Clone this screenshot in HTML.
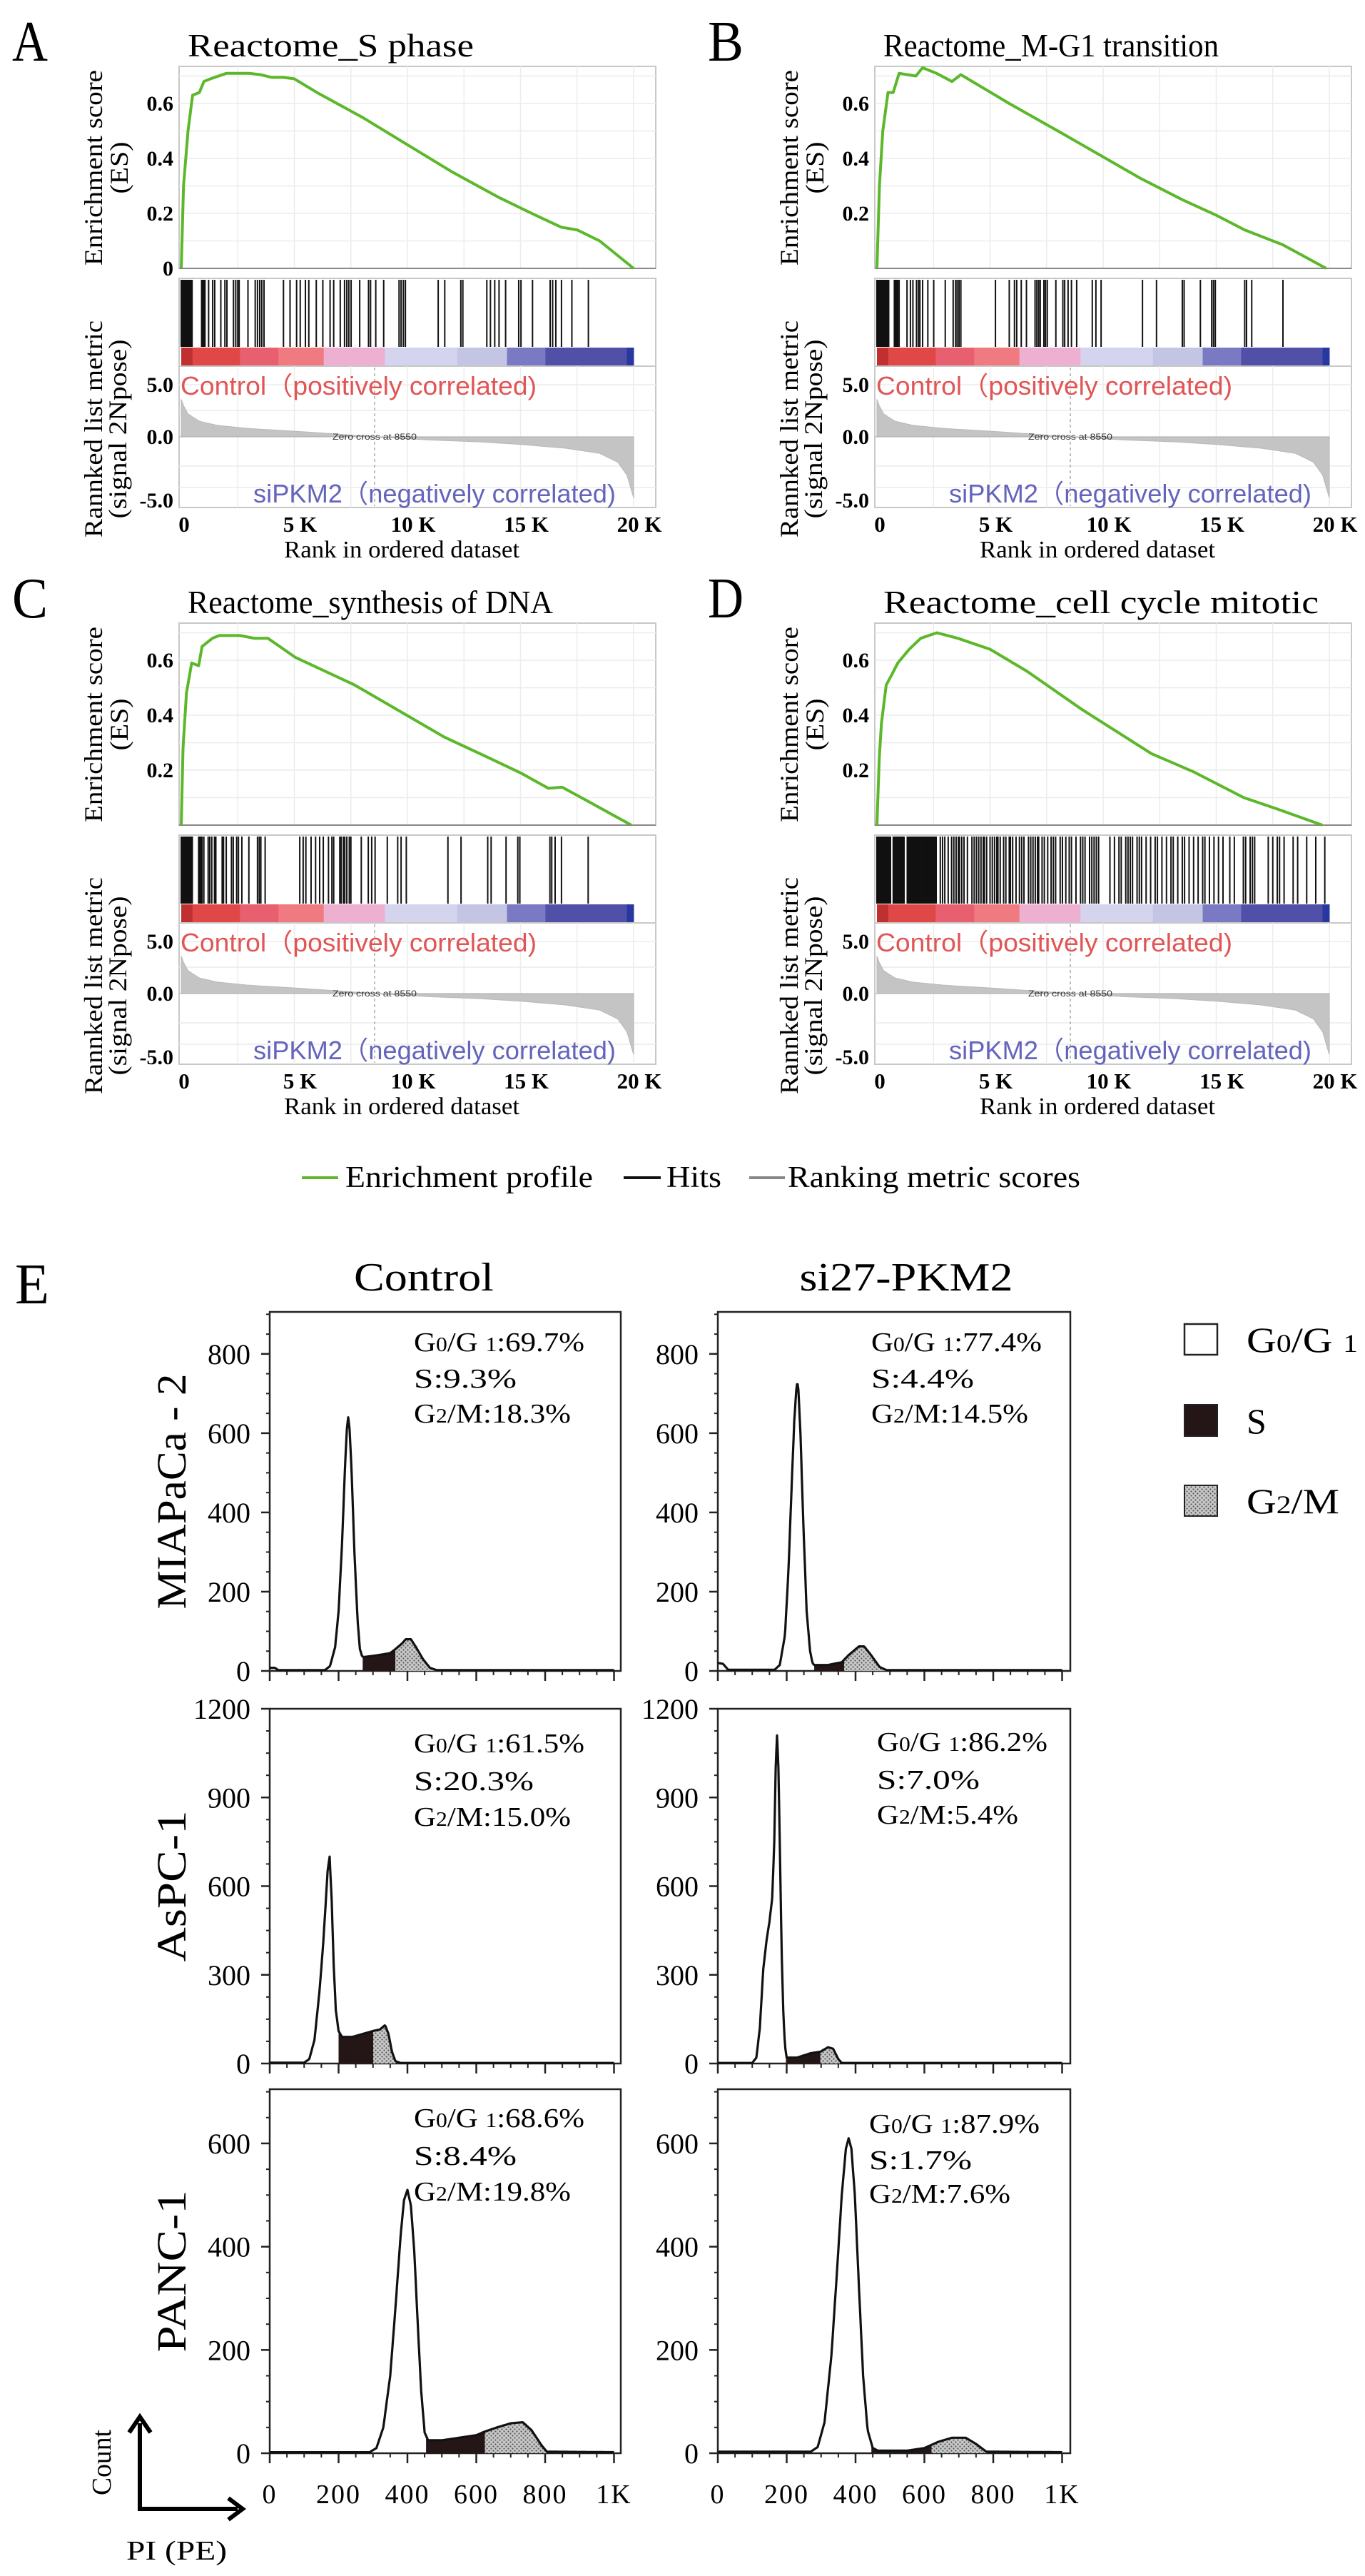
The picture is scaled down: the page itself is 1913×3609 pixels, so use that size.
<!DOCTYPE html>
<html><head><meta charset="utf-8">
<style>
html,body{margin:0;padding:0;background:#fff;}
svg{display:block;font-family:"Liberation Serif",serif;}
</style></head>
<body>
<svg id="fig" width="1913" height="3609" viewBox="0 0 1913 3609" xmlns="http://www.w3.org/2000/svg">
<defs>
<pattern id="hatch" width="6" height="6" patternUnits="userSpaceOnUse">
<rect width="6" height="6" fill="#c8c8c8"/>
<circle cx="1.5" cy="1.5" r="1.1" fill="#555"/>
<circle cx="4.5" cy="4.5" r="1.1" fill="#555"/>
</pattern>
</defs>
</svg>
<script>
// ---------- GSEA data ----------
const xTickK = [0,5,10,15,20];
const xTickLabels = ["0","5 K","10 K","15 K","20 K"];
const esTicks = [0.6,0.4,0.2];
const metricTicks = [5,0,-5];
const metricTickLabels = ["5.0","0.0","-5.0"];

const esA_k = [0,0.1,0.3,0.5,0.8,1.0,1.3,2.0,2.5,3.0,3.5,4.0,4.5,5.0,6,8,10,12,14,15.5,16.8,17.5,18.5,20.0];
const esA_v = [0,0.3,0.5,0.63,0.64,0.68,0.69,0.71,0.71,0.71,0.705,0.695,0.695,0.69,0.64,0.55,0.45,0.35,0.26,0.2,0.15,0.14,0.1,0];
const esB_k = [0,0.11,0.26,0.49,0.72,0.98,1.72,2.02,2.63,3.32,3.71,5.85,8.30,11.67,13.50,14.96,16.26,17.94,19.86];
const esB_v = [0,0.3,0.5,0.64,0.64,0.71,0.70,0.73,0.71,0.68,0.705,0.6,0.486,0.327,0.25,0.195,0.14,0.086,0];
const esC_k = [0,0.08,0.23,0.46,0.77,0.92,1.38,1.68,2.60,3.22,3.83,5.05,7.66,11.64,13.47,15.0,16.23,16.84,17.91,19.90];
const esC_v = [0,0.28,0.48,0.59,0.58,0.65,0.68,0.69,0.69,0.68,0.68,0.61,0.51,0.32,0.25,0.19,0.134,0.138,0.09,0];
const esD_k = [0,0.1,0.2,0.41,0.61,0.92,1.43,1.94,2.65,3.57,5.0,6.63,9.08,12.14,13.97,16.22,17.65,19.69];
const esD_v = [0,0.24,0.37,0.51,0.54,0.59,0.64,0.68,0.70,0.68,0.64,0.56,0.42,0.26,0.195,0.10,0.06,0];

const hitsA = [0,0.04,0.08,0.12,0.16,0.2,0.24,0.28,0.32,0.36,0.4,0.44,0.48,0.9,0.95,1.0,1.05,1.21,1.39,1.48,1.75,1.93,2.02,2.31,2.41,2.50,2.56,2.95,3.27,3.37,3.47,3.56,3.66,4.52,4.81,5.10,5.26,5.49,5.64,5.97,6.26,6.58,6.74,7.03,7.22,7.32,7.41,7.51,7.89,8.28,8.37,8.60,8.95,9.63,9.72,9.82,9.91,11.36,11.65,12.36,12.45,13.51,13.67,13.86,14.05,14.34,14.92,15.02,15.53,16.31,16.42,16.56,16.81,17.27,18.00];
const hitsB = [0,0.04,0.08,0.12,0.16,0.2,0.24,0.28,0.32,0.36,0.4,0.44,0.48,0.52,0.77,0.82,0.87,0.92,0.98,1.33,1.48,1.59,1.75,1.84,1.90,2.02,2.25,2.51,3.02,3.37,3.48,3.55,3.63,3.71,5.24,5.85,6.08,6.18,6.38,6.61,6.99,7.07,7.15,7.22,7.38,7.45,7.53,7.91,8.22,8.30,8.45,8.60,8.83,9.52,9.68,9.91,11.74,12.36,13.50,13.58,14.30,14.80,14.88,14.96,16.26,16.34,16.57,17.95];
const hitsC = [0,0.04,0.08,0.12,0.16,0.2,0.24,0.28,0.32,0.36,0.4,0.44,0.49,0.77,0.82,0.87,0.92,1.0,1.19,1.26,1.35,1.47,1.53,1.81,1.87,1.99,2.22,2.30,2.45,2.53,2.68,2.99,3.37,3.45,3.52,3.71,5.24,5.39,5.51,5.74,5.94,6.12,6.28,6.51,6.66,6.74,7.01,7.07,7.17,7.23,7.32,7.43,7.50,7.96,8.27,8.42,8.57,9.11,9.57,9.72,9.95,11.79,12.37,13.55,13.70,14.36,14.88,14.97,16.30,16.38,16.53,16.81,17.99];
const hitsD = [0,0.04,0.08,0.12,0.16,0.2,0.24,0.28,0.32,0.36,0.4,0.44,0.48,0.52,0.56,0.6,0.72,0.76,0.8,0.84,0.88,0.92,0.96,1.0,1.04,1.08,1.12,1.16,1.2,1.34,1.38,1.42,1.46,1.5,1.54,1.58,1.62,1.66,1.7,1.74,1.78,1.82,1.86,1.9,1.94,1.98,2.02,2.06,2.1,2.14,2.18,2.22,2.26,2.3,2.34,2.38,2.42,2.46,2.5,2.54,2.58,2.62,2.8,2.9,3.0,3.15,3.3,3.4,3.5,3.6,3.65,3.75,3.85,4.0,4.2,4.3,4.4,4.5,4.6,4.7,4.75,4.85,5.0,5.1,5.2,5.3,5.35,5.45,5.6,5.7,5.85,5.9,6.0,6.15,6.3,6.4,6.5,6.7,6.8,6.9,7.0,7.1,7.15,7.3,7.4,7.55,7.7,7.8,7.9,8.1,8.2,8.35,8.5,8.6,8.8,9.0,9.1,9.2,9.4,9.5,9.6,9.7,9.8,10.3,10.5,10.7,10.8,11.0,11.1,11.2,11.3,11.5,11.6,11.7,11.9,12.1,12.3,12.4,12.6,12.8,13.0,13.1,13.3,13.5,13.6,13.8,14.0,14.2,14.4,14.5,14.7,14.9,15.1,15.3,15.6,15.8,16.2,16.3,16.5,16.6,16.7,17.3,17.5,17.7,17.8,18.0,18.4,18.6,19.0,19.4,19.8];

const metricK = [0,0.1,0.3,0.8,1.6,3,5.3,7,8.55,11,13.2,15,17,18.5,19.3,19.7,20.0];
const metricV = [3.6,3.0,2.2,1.5,1.1,0.8,0.5,0.25,0,-0.25,-0.4,-0.6,-0.9,-1.3,-2,-3,-4.8];

const barStartK = [0,0.5,2.6,4.3,6.3,9.0,12.2,14.4,16.1,19.7];
const barEndK = [0.5,2.6,4.3,6.3,9.0,12.2,14.4,16.1,19.7,20.0];
const barColors = ["#c03030","#e04848","#e86070","#ef7a80","#eeb0d0","#d4d4ee","#c4c4e4","#7a7ac4","#5050a8","#2838a0"];

// ---------- flow data ----------
const flowXTicks = [0,200,400,600,800,1000];
const flowXLabels = ["0","200","400","600","800","1K"];
const mia_ctrl_x = [0,15,25,160,175,190,200,210,218,224,228,232,238,246,255,262,268,272,300,330,350,365,385,395,410,425,445,465,485,1000];
const mia_ctrl_y = [8,8,2,2,12,60,150,320,500,610,640,610,500,300,130,55,38,35,38,42,45,55,70,80,80,60,30,8,2,2];
const mia_si_x = [0,15,30,165,180,195,205,215,222,228,231,234,240,248,258,268,275,280,320,360,380,410,425,445,470,490,1000];
const mia_si_y = [20,18,3,3,15,90,250,480,630,710,730,710,600,380,150,50,20,15,15,22,40,62,62,40,10,2,2];
const asp_ctrl_x = [0,100,115,130,145,155,163,168,174,180,186,192,200,210,240,270,300,320,335,345,355,365,380,1000];
const asp_ctrl_y = [3,3,15,80,250,400,550,650,700,550,330,180,110,90,90,100,110,115,130,100,40,8,2,2];
const asp_si_x = [0,100,112,122,132,142,150,158,164,168,172,176,180,185,190,195,200,230,270,298,320,335,350,360,1000];
const asp_si_y = [2,2,20,120,320,420,480,560,750,1000,1110,1000,750,400,180,60,20,20,35,40,55,50,15,2,2];
const panc_ctrl_x = [0,290,310,330,350,365,380,390,400,410,420,430,440,450,460,500,550,600,625,660,700,735,760,790,805,1000];
const panc_ctrl_y = [2,2,10,50,150,280,420,490,510,480,390,250,120,40,25,25,30,35,42,50,58,60,45,15,3,2];
const panc_si_x = [0,270,290,310,330,345,360,372,380,388,398,410,422,435,450,465,550,600,640,680,720,750,780,1000];
const panc_si_y = [3,3,12,60,190,340,500,590,610,590,500,320,150,45,10,5,5,10,22,30,30,18,3,2];
const sRanges = [[270,365],[280,367],[200,301],[198,298],[454,625],[446,621]];
const gRanges = [[365,485],[367,490],[301,365],[298,354],[625,805],[621,780]];
const stats = [["69.7","9.3","18.3"],["77.4","4.4","14.5"],["61.5","20.3","15.0"],["86.2","7.0","5.4"],["68.6","8.4","19.8"],["87.9","1.7","7.6"]];

const NS = "http://www.w3.org/2000/svg";
const svg = document.getElementById("fig");
function el(tag, attrs, parent, text){
  const e = document.createElementNS(NS, tag);
  for (const k in attrs) e.setAttribute(k, attrs[k]);
  if (text !== undefined) e.textContent = text;
  (parent||svg).appendChild(e);
  return e;
}
function interp(xs, ys, v){
  if (v <= xs[0]) return ys[0];
  for (let i=1;i<xs.length;i++){ if (v <= xs[i]){ const t=(v-xs[i-1])/(xs[i]-xs[i-1]); return ys[i-1]+t*(ys[i]-ys[i-1]); } }
  return ys[ys.length-1];
}
const FIT = {lengthAdjust:"spacingAndGlyphs"};

// ---------- GSEA panels ----------
function gsea(L, T, letter, title, titleW, ek, ev, hits, showZero){
  const g = el("g", {});
  
  
  const xs = k => L + 3 + k * 31.7;
  const ys = v => T + 283 - v * 385;
  const ym = v => v >= 0 ? T + 519 - v * 14.6 : T + 519 - v * 17.8;
  const lt = el("text", {x:L-234, y:T-8, "font-size":80, textLength:50, lengthAdjust:"spacingAndGlyphs"}, g, letter);
  
  
  const tt = el("text", {x:L+12, y:T-14, "font-size":46, textLength:titleW, lengthAdjust:"spacingAndGlyphs"}, g, title);
  
  
  el("rect", {x:L, y:T, width:668, height:283, fill:"#fff", stroke:"#c8c8c8", "stroke-width":2}, g);
  for (let k=2.5;k<20.1;k+=2.5) el("line", {x1:xs(k), x2:xs(k), y1:T, y2:T+283, stroke:"#ececec", "stroke-width":1.5}, g);
  for (let v=0.1; v<0.75; v+=0.1) el("line", {x1:L, x2:L+668, y1:ys(v), y2:ys(v), stroke:"#ececec", "stroke-width":1.5}, g);
  el("line", {x1:L, x2:L+668, y1:T+283, y2:T+283, stroke:"#888", "stroke-width":2}, g);
  let d = "";
  ek.forEach((k,i)=>{ d += (i?"L":"M") + xs(k).toFixed(1) + " " + ys(ev[i]).toFixed(1) + " "; });
  const es = el("path", {d:d, fill:"none", stroke:"#5cb82a", "stroke-width":4, "stroke-linejoin":"round"}, g);
  
  
  const eticks = showZero ? esTicks.concat([0]) : esTicks;
  eticks.forEach(v=>{
    const t = el("text", {x:L-8, y:ys(v)+10, "font-size":30, "font-weight":"bold", "text-anchor":"end"}, g, v===0?"0":v.toFixed(1));
    
    
  });
  el("rect", {x:L, y:T+297, width:668, height:123, fill:"#fff", stroke:"#c8c8c8", "stroke-width":2}, g);
  hits.forEach(k=>{
    const h = el("line", {x1:xs(k), x2:xs(k), y1:T+299, y2:T+393, stroke:"#111", "stroke-width":2}, g);
    
    
  });
  barStartK.forEach((k,i)=>{
    const r = el("rect", {x:xs(k), y:T+394, width:xs(barEndK[i])-xs(k)+0.5, height:25, fill:barColors[i]}, g);
    
    
  });
  el("rect", {x:L, y:T+420, width:668, height:198, fill:"#fff", stroke:"#c8c8c8", "stroke-width":2}, g);
  for (let k=2.5;k<20.1;k+=2.5) el("line", {x1:xs(k), x2:xs(k), y1:T+420, y2:T+618, stroke:"#ececec", "stroke-width":1.5}, g);
  [T+446,T+482,T+560,T+590].forEach(y=> el("line", {x1:L, x2:L+668, y1:y, y2:y, stroke:"#ececec", "stroke-width":1.5}, g));
  let md = "M" + xs(0) + " " + ym(0) + " ";
  for (let k=0; k<=20.0001; k+=0.05) md += "L" + xs(k).toFixed(1) + " " + ym(interp(metricK, metricV, k)).toFixed(1) + " ";
  md += "L" + xs(20) + " " + ym(0) + " Z";
  const ma = el("path", {d:md, fill:"#c4c4c4", stroke:"#b8b8b8", "stroke-width":1}, g);
  
  
  el("line", {x1:xs(8.55), x2:xs(8.55), y1:T+422, y2:T+616, stroke:"#aaa", "stroke-width":1.5, "stroke-dasharray":"4 4"}, g);
  el("line", {x1:L, x2:xs(20), y1:ym(0), y2:ym(0), stroke:"#aaa", "stroke-width":1}, g);
  const zc = el("text", {x:L+215, y:T+523, "font-size":12, "font-family":"Liberation Sans, sans-serif", fill:"#333", textLength:118, lengthAdjust:"spacingAndGlyphs"}, g, "Zero cross at 8550");
  
  
  const ct = el("text", {x:L+2, y:T+460, "font-size":36, "font-family":"Liberation Sans, sans-serif", fill:"#e05555", textLength:499, lengthAdjust:"spacingAndGlyphs"}, g, "Control（positively correlated)");
  
  
  const st = el("text", {x:L+104, y:T+611, "font-size":36, "font-family":"Liberation Sans, sans-serif", fill:"#6464bc", textLength:508, lengthAdjust:"spacingAndGlyphs"}, g, "siPKM2（negatively correlated)");
  
  
  metricTicks.forEach((v,i)=>{
    const yy = [T+456, T+529, T+618][i];
    const t = el("text", {x:L-8, y:yy, "font-size":30, "font-weight":"bold", "text-anchor":"end"}, g, metricTickLabels[i]);
    
    
  });
  xTickK.forEach((k,i)=>{
    const t = el("text", {x:xs(k)+(i===0?4:8), y:T+652, "font-size":31, "font-weight":"bold", "text-anchor":"middle"}, g, xTickLabels[i]);
    
    
  });
  const xt = el("text", {x:L+312, y:T+688, "font-size":34, "text-anchor":"middle", textLength:330, lengthAdjust:"spacingAndGlyphs"}, g, "Rank in ordered dataset");
  
  
  const y1 = el("text", {transform:"translate("+(L-108)+","+(T+142)+") rotate(-90)", "font-size":36, "text-anchor":"middle", textLength:274, lengthAdjust:"spacingAndGlyphs"}, g, "Enrichment score");
  
  
  el("text", {transform:"translate("+(L-72)+","+(T+142)+") rotate(-90)", "font-size":36, "text-anchor":"middle", textLength:73, lengthAdjust:"spacingAndGlyphs"}, g, "(ES)");
  const y2 = el("text", {transform:"translate("+(L-108)+","+(T+508)+") rotate(-90)", "font-size":36, "text-anchor":"middle", textLength:304, lengthAdjust:"spacingAndGlyphs"}, g, "Rannked list metric");
  
  
  el("text", {transform:"translate("+(L-74)+","+(T+508)+") rotate(-90)", "font-size":36, "text-anchor":"middle", textLength:251, lengthAdjust:"spacingAndGlyphs"}, g, "(signal 2Npose)");
}
gsea(251, 93, "A", "Reactome_S phase", 401, esA_k, esA_v, hitsA, true);
gsea(1226, 93, "B", "Reactome_M-G1 transition", 470, esB_k, esB_v, hitsB, false);
gsea(251, 873, "C", "Reactome_synthesis of DNA", 512, esC_k, esC_v, hitsC, false);
gsea(1226, 873, "D", "Reactome_cell cycle mitotic", 610, esD_k, esD_v, hitsD, false);

const lg = el("g", {});


el("line", {x1:423, x2:474, y1:1650, y2:1650, stroke:"#5cb82a", "stroke-width":4}, lg);
el("text", {x:484, y:1663, "font-size":42, textLength:347, lengthAdjust:"spacingAndGlyphs"}, lg, "Enrichment profile");
el("line", {x1:874, x2:926, y1:1650, y2:1650, stroke:"#111", "stroke-width":4}, lg);
el("text", {x:934, y:1663, "font-size":42, textLength:77, lengthAdjust:"spacingAndGlyphs"}, lg, "Hits");
el("line", {x1:1050, x2:1100, y1:1650, y2:1650, stroke:"#888", "stroke-width":4}, lg);
el("text", {x:1104, y:1663, "font-size":42, textLength:410, lengthAdjust:"spacingAndGlyphs"}, lg, "Ranking metric scores");

// ---------- Flow panels ----------
const eL = el("text", {x:21, y:1826, "font-size":80, textLength:48, lengthAdjust:"spacingAndGlyphs"}, svg, "E");


const c1 = el("text", {x:594, y:1808, "font-size":56, "text-anchor":"middle", textLength:196, lengthAdjust:"spacingAndGlyphs"}, svg, "Control");


const c2 = el("text", {x:1270, y:1808, "font-size":56, "text-anchor":"middle", textLength:299, lengthAdjust:"spacingAndGlyphs"}, svg, "si27-PKM2");



const rows = [
  {top:1838, bot:2341, ymax:906, ticks:[0,200,400,600,800], minor:50, name:"MIAPaCa - 2", nameW:330, ty:[1893,1944,1993], ty2:[1893,1944,1993]},
  {top:2394, bot:2891, ymax:1200, ticks:[0,300,600,900,1200], minor:75, name:"AsPC-1", nameW:212, ty:[2455,2508,2558], ty2:[2453,2506,2555]},
  {top:2927, bot:3437, ymax:705, ticks:[0,200,400,600], minor:50, name:"PANC-1", nameW:227, ty:[2980,3033,3083], ty2:[2988,3039,3086]}
];
const cols = [{x0:378, right:870, tx:580}, {x0:1006, right:1500, tx:1221}];
const datasets = [[mia_ctrl_x,mia_ctrl_y],[mia_si_x,mia_si_y],[asp_ctrl_x,asp_ctrl_y],[asp_si_x,asp_si_y],[panc_ctrl_x,panc_ctrl_y],[panc_si_x,panc_si_y]];

rows.forEach((r, ri)=>{
  const rl = el("text", {transform:"translate(260,"+((r.top+r.bot)/2)+") rotate(-90)", "font-size":58, "text-anchor":"middle", textLength:r.nameW, lengthAdjust:"spacingAndGlyphs"}, svg, r.name);
  
  
  cols.forEach((c, ci)=>{
    const idx = ri*2 + ci;
    const [dx, dy] = datasets[idx];
    const g = el("g", {});
    
    
    const X = v => c.x0 + v * 0.4825;
    const Y = v => r.bot - v * (r.bot - r.top) / r.ymax;
    el("rect", {x:c.x0, y:r.top, width:c.right-c.x0, height:r.bot-r.top, fill:"#fff", stroke:"#222", "stroke-width":2.5}, g);
    for (let v=0; v<=r.ymax; v+=r.minor) el("line", {x1:c.x0-5, x2:c.x0, y1:Y(v), y2:Y(v), stroke:"#222", "stroke-width":2}, g);
    r.ticks.forEach(v=>{
      el("line", {x1:c.x0-12, x2:c.x0, y1:Y(v), y2:Y(v), stroke:"#222", "stroke-width":2.5}, g);
      const t = el("text", {x:c.x0-27, y:Y(v)+14, "font-size":40, "text-anchor":"end"}, g, String(v));
      
      
    });
    for (let v=0; v<=1000; v+=50) el("line", {x1:X(v), x2:X(v), y1:r.bot, y2:r.bot+6, stroke:"#222", "stroke-width":2}, g);
    flowXTicks.forEach((v,i)=>{
      el("line", {x1:X(v), x2:X(v), y1:r.bot, y2:r.bot+14, stroke:"#222", "stroke-width":2.5}, g);
      if (ri === 2){
        const t = el("text", {x:X(v), y:r.bot+70, "font-size":38, "text-anchor":"middle", "letter-spacing":2}, g, flowXLabels[i]);
        
        
      }
    });
    function region(a, b, fill, nm){
      let d = "M" + X(a).toFixed(1) + " " + Y(0).toFixed(1) + " ";
      for (let v=a; v<=b; v+=2) d += "L" + X(v).toFixed(1) + " " + Y(interp(dx,dy,v)).toFixed(1) + " ";
      d += "L" + X(b).toFixed(1) + " " + Y(interp(dx,dy,b)).toFixed(1) + " L" + X(b).toFixed(1) + " " + Y(0).toFixed(1) + " Z";
      const p = el("path", {d:d, fill:fill}, g);
      
      
    }
    region(sRanges[idx][0], sRanges[idx][1], "#241616", "s-phase-fill");
    region(gRanges[idx][0], gRanges[idx][1], "url(#hatch)", "g2m-phase-fill");
    let d = "";
    for (let v=0; v<=1000; v+=2) d += (v?"L":"M") + X(v).toFixed(1) + " " + Y(interp(dx,dy,v)).toFixed(1) + " ";
    const cp = el("path", {d:d, fill:"none", stroke:"#111", "stroke-width":3.2, "stroke-linejoin":"round"}, g);
    
    
    const tys = ci===0 ? r.ty : r.ty2;
    const tx = ci===0 ? c.tx : (ri===1 ? 1229 : (ri===2 ? 1218 : 1221));
    const s = stats[idx];
    const t1 = el("text", {x:tx, y:tys[0], "font-size":38, textLength:239, lengthAdjust:"spacingAndGlyphs"}, g);
    
    
    el("tspan", {}, t1, "G");
    el("tspan", {"font-size":28}, t1, "0");
    el("tspan", {}, t1, "/G ");
    el("tspan", {"font-size":28}, t1, "1");
    el("tspan", {}, t1, ":" + s[0] + "%");
    const t2 = el("text", {x:tx, y:tys[1], "font-size":38, textLength:(s[1].length+3)*24, lengthAdjust:"spacingAndGlyphs"}, g, "S:" + s[1] + "%");
    
    
    const t3 = el("text", {x:tx, y:tys[2], "font-size":38, textLength:(s[2].length+6)*22, lengthAdjust:"spacingAndGlyphs"}, g);
    
    
    el("tspan", {}, t3, "G");
    el("tspan", {"font-size":28}, t3, "2");
    el("tspan", {}, t3, "/M:" + s[2] + "%");
  });
});

const pl = el("g", {});


el("rect", {x:1660, y:1855, width:46, height:43, fill:"#fff", stroke:"#222", "stroke-width":2.5}, pl);
const lt1 = el("text", {x:1747, y:1894, "font-size":50, textLength:156, lengthAdjust:"spacingAndGlyphs"}, pl);
el("tspan", {}, lt1, "G");
el("tspan", {"font-size":36}, lt1, "0");
el("tspan", {}, lt1, "/G ");
el("tspan", {"font-size":36}, lt1, "1");
el("rect", {x:1660, y:1968, width:46, height:44, fill:"#241616", stroke:"#222", "stroke-width":2}, pl);
el("text", {x:1747, y:2008, "font-size":50}, pl, "S");
el("rect", {x:1660, y:2081, width:46, height:43, fill:"url(#hatch)", stroke:"#222", "stroke-width":2}, pl);
const lt3 = el("text", {x:1747, y:2120, "font-size":50, textLength:130, lengthAdjust:"spacingAndGlyphs"}, pl);
el("tspan", {}, lt3, "G");
el("tspan", {"font-size":36}, lt3, "2");
el("tspan", {}, lt3, "/M");

const ar = el("g", {});


el("path", {d:"M196 3515 L196 3395 M181 3408 L196 3386 L211 3408", fill:"none", stroke:"#000", "stroke-width":6}, ar);
el("path", {d:"M193 3515 L333 3515 M320 3500 L340 3515 L320 3530", fill:"none", stroke:"#000", "stroke-width":6}, ar);
el("text", {transform:"translate(155,3450) rotate(-90)", "font-size":38, "text-anchor":"middle", textLength:92, lengthAdjust:"spacingAndGlyphs"}, ar, "Count");
el("text", {x:177, y:3586, "font-size":38, textLength:141, lengthAdjust:"spacingAndGlyphs"}, ar, "PI (PE)");
</script>
</body></html>
